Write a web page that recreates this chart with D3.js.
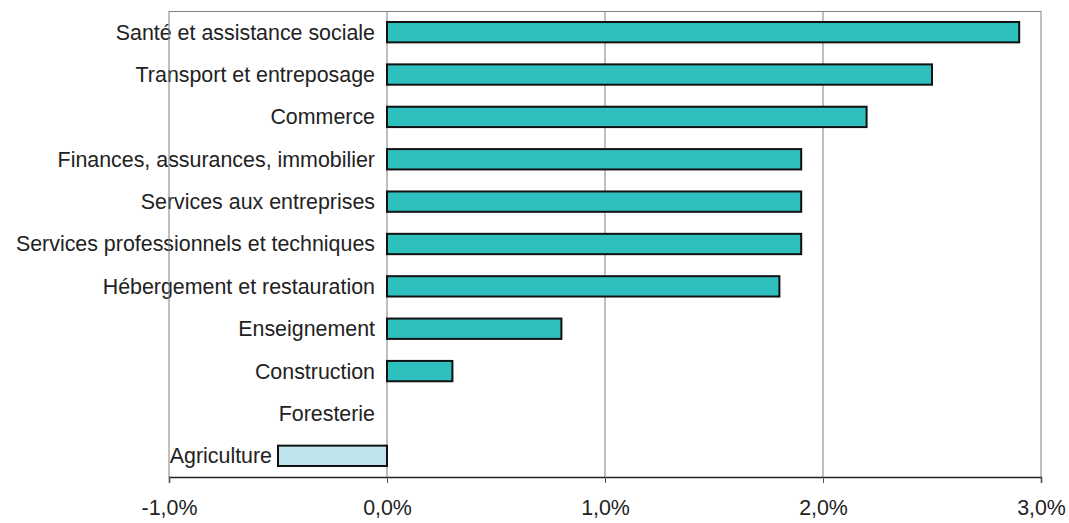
<!DOCTYPE html>
<html>
<head>
<meta charset="utf-8">
<script src="https://d3js.org/d3.v7.min.js"></script>
<style>
  body { margin: 0; background: #fff; }
  text { font-family: Arial, "Liberation Sans", sans-serif; fill: #222; }
</style>
</head>
<body>
<div id="chart"></div>
<script>
// categories, top to bottom
var sectors = ["Santé et assistance sociale", "Transport et entreposage", "Commerce",
  "Finances, assurances, immobilier", "Services aux entreprises",
  "Services professionnels et techniques", "Hébergement et restauration",
  "Enseignement", "Construction", "Foresterie", "Agriculture"];
// growth in %
var growth = [2.9, 2.5, 2.2, 1.9, 1.9, 1.9, 1.8, 0.8, 0.3, 0.0, -0.5];
var ticks = [-1, 0, 1, 2, 3];

var W = 1069, H = 523;
var m = {left: 169, right: 28, top: 11, bottom: 46};

var svg = d3.select("#chart").append("svg").attr("width", W).attr("height", H);

var x = d3.scaleLinear().domain([-1, 3]).range([m.left, W - m.right]);
var y = d3.scaleBand().domain(sectors).range([m.top, H - m.bottom]).paddingInner(0.52).paddingOuter(0.26);

// category labels, placed left of the bar's low end
svg.selectAll("text.cat")
  .data(sectors)
  .enter().append("text")
    .attr("x", function (d, i) { return growth[i] < 0 ? x(growth[i]) - 6 : x(0) - 12; })
    .attr("y", function (d) { return y(d) + y.bandwidth() / 2; })
    .attr("dy", "0.35em")
    .attr("text-anchor", "end")
    .style("font-size", "21.4px")
    .text(function (d) { return d; });

// top border
svg.append("line")
  .attr("x1", m.left).attr("x2", W - m.right)
  .attr("y1", m.top + 0.5).attr("y2", m.top + 0.5)
  .attr("stroke", "#808080");

// grid lines (drawn over labels, as in the original)
svg.selectAll("line.grid")
  .data(ticks)
  .enter().append("line")
    .attr("x1", function (d) { return x(d); })
    .attr("x2", function (d) { return x(d); })
    .attr("y1", m.top)
    .attr("y2", H - m.bottom)
    .attr("stroke", "#808080")
    .attr("stroke-width", 1);

// bars
svg.selectAll("rect.bar")
  .data(growth)
  .enter().append("rect")
    .attr("x", function (d) { return x(Math.min(0, d)); })
    .attr("y", function (d, i) { return y(sectors[i]); })
    .attr("width", function (d) { return Math.abs(x(d) - x(0)); })
    .attr("height", y.bandwidth())
    .attr("fill", function (d) { return d < 0 ? "#bfe4ec" : "#2ebfbf"; })
    .attr("stroke", "#111")
    .attr("stroke-width", function (d) { return d === 0 ? 0 : 2; });

// x axis
var fmt = function (d) { return d3.format(".1f")(d).replace("−", "-").replace(".", ",") + "%"; };
var xAxis = svg.append("g")
  .attr("transform", "translate(0," + (H - m.bottom) + ")")
  .call(d3.axisBottom(x).tickValues(ticks).tickSize(6).tickFormat(fmt));
xAxis.select(".domain").attr("stroke", "#222").attr("stroke-width", 1.5);
xAxis.selectAll(".tick line").attr("stroke", "#555");
xAxis.selectAll(".tick text")
  .attr("y", 23)
  .style("font-size", "21.4px")
  .style("font-family", "Arial, Liberation Sans, sans-serif")
  .attr("fill", "#222");
</script>
</body>
</html>
